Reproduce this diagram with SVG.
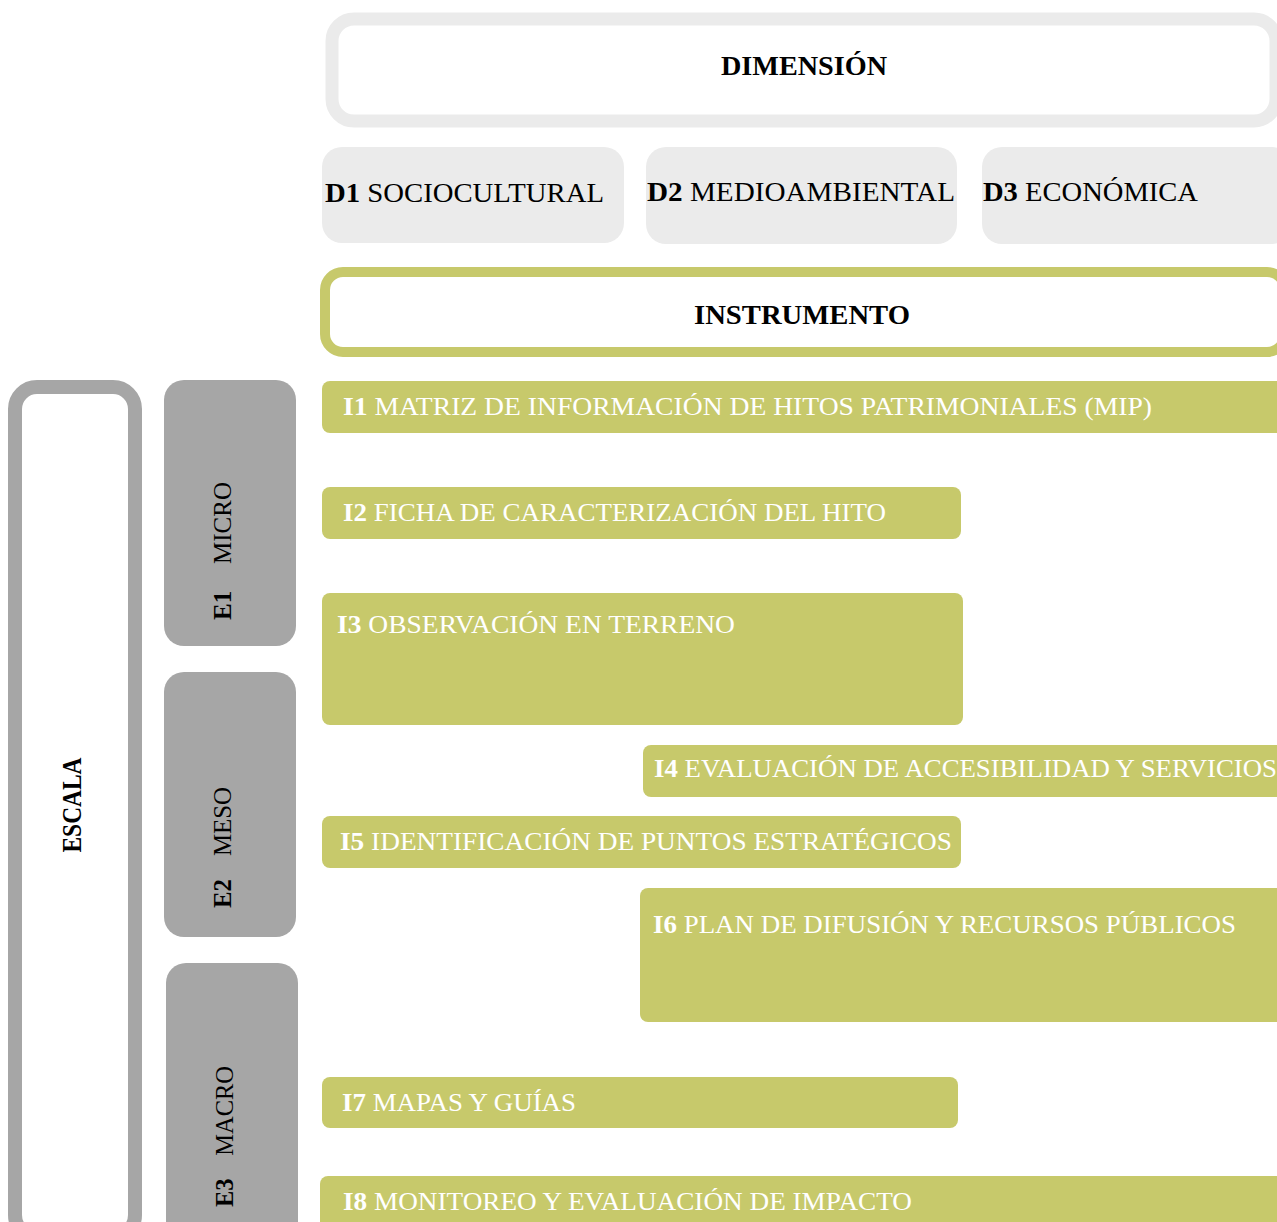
<svg xmlns="http://www.w3.org/2000/svg" width="1277" height="1222" viewBox="0 0 1277 1222">
<style>
text{font-family:"Liberation Serif","DejaVu Serif",serif;}
.hd{font-size:27px;font-weight:bold;fill:#000;text-anchor:middle;}
.dt{font-size:27px;fill:#000;}
.it{font-size:26px;fill:#fff;}
.et{font-size:26px;fill:#000;}
.b{font-weight:bold;}
.dim{fill:#ebebeb;}
.inst{fill:#c7c96b;}
.esc{fill:#a6a6a6;}
</style>
<rect width="1277" height="1222" fill="#fff"/>
<g id="dimension">
<rect x="332" y="19" width="944" height="102" rx="22" fill="#fff" stroke="#ebebeb" stroke-width="13"/>
<text class="hd" x="804" y="75" textLength="166" lengthAdjust="spacingAndGlyphs">DIMENSIÓN</text>
</g>
<g id="d1"><rect class="dim" x="322" y="147" width="302" height="96" rx="20"/><text class="dt" x="325" y="202" textLength="279" lengthAdjust="spacingAndGlyphs"><tspan class="b">D1</tspan> SOCIOCULTURAL</text></g>
<g id="d2"><rect class="dim" x="646" y="147" width="311" height="97" rx="20"/><text class="dt" x="647" y="201" textLength="308" lengthAdjust="spacingAndGlyphs"><tspan class="b">D2</tspan> MEDIOAMBIENTAL</text></g>
<g id="d3"><rect class="dim" x="982" y="147" width="310" height="97" rx="20"/><text class="dt" x="983" y="201" textLength="215" lengthAdjust="spacingAndGlyphs"><tspan class="b">D3</tspan> ECONÓMICA</text></g>
<g id="instrumento">
<rect x="325" y="272" width="960" height="80" rx="18" fill="#fff" stroke="#c7c96b" stroke-width="10"/>
<text class="hd" x="802" y="324" textLength="216" lengthAdjust="spacingAndGlyphs">INSTRUMENTO</text>
</g>
<g id="escala">
<rect x="15" y="387" width="120" height="850" rx="22" fill="#fff" stroke="#a6a6a6" stroke-width="14"/>
<text class="hd" transform="translate(81,805) rotate(-90)" x="0" y="0" textLength="95" lengthAdjust="spacingAndGlyphs">ESCALA</text>
</g>
<g id="e1"><rect class="esc" x="164" y="380" width="132" height="266" rx="20"/><text class="et" transform="translate(231,620) rotate(-90)" textLength="138" lengthAdjust="spacingAndGlyphs"><tspan class="b">E1</tspan><tspan dx="28">MICRO</tspan></text></g>
<g id="e2"><rect class="esc" x="164" y="672" width="132" height="265" rx="20"/><text class="et" transform="translate(231,908) rotate(-90)" textLength="121" lengthAdjust="spacingAndGlyphs"><tspan class="b">E2</tspan><tspan dx="24">MESO</tspan></text></g>
<g id="e3"><rect class="esc" x="166" y="963" width="132" height="290" rx="20"/><text class="et" transform="translate(233,1207) rotate(-90)" textLength="141" lengthAdjust="spacingAndGlyphs"><tspan class="b">E3</tspan><tspan dx="24">MACRO</tspan></text></g>
<g id="i1"><rect class="inst" x="322" y="381" width="975" height="52" rx="8"/><text class="it" x="343" y="415" textLength="809" lengthAdjust="spacingAndGlyphs"><tspan class="b">I1</tspan> MATRIZ DE INFORMACIÓN DE HITOS PATRIMONIALES (MIP)</text></g>
<g id="i2"><rect class="inst" x="322" y="487" width="639" height="52" rx="8"/><text class="it" x="343" y="521" textLength="543" lengthAdjust="spacingAndGlyphs"><tspan class="b">I2</tspan> FICHA DE CARACTERIZACIÓN DEL HITO</text></g>
<g id="i3"><rect class="inst" x="322" y="593" width="641" height="132" rx="8"/><text class="it" x="337" y="633" textLength="398" lengthAdjust="spacingAndGlyphs"><tspan class="b">I3</tspan> OBSERVACIÓN EN TERRENO</text></g>
<g id="i4"><rect class="inst" x="643" y="745" width="654" height="52" rx="8"/><text class="it" x="654" y="777" textLength="623" lengthAdjust="spacingAndGlyphs"><tspan class="b">I4</tspan> EVALUACIÓN DE ACCESIBILIDAD Y SERVICIOS</text></g>
<g id="i5"><rect class="inst" x="322" y="816" width="639" height="52" rx="8"/><text class="it" x="340" y="850" textLength="612" lengthAdjust="spacingAndGlyphs"><tspan class="b">I5</tspan> IDENTIFICACIÓN DE PUNTOS ESTRATÉGICOS</text></g>
<g id="i6"><rect class="inst" x="640" y="888" width="657" height="134" rx="8"/><text class="it" x="653" y="933" textLength="583" lengthAdjust="spacingAndGlyphs"><tspan class="b">I6</tspan> PLAN DE DIFUSIÓN Y RECURSOS PÚBLICOS</text></g>
<g id="i7"><rect class="inst" x="322" y="1077" width="636" height="51" rx="8"/><text class="it" x="342" y="1111" textLength="234" lengthAdjust="spacingAndGlyphs"><tspan class="b">I7</tspan> MAPAS Y GUÍAS</text></g>
<g id="i8"><rect class="inst" x="320" y="1176" width="977" height="70" rx="8"/><text class="it" x="343" y="1210" textLength="569" lengthAdjust="spacingAndGlyphs"><tspan class="b">I8</tspan> MONITOREO Y EVALUACIÓN DE IMPACTO</text></g>
<g id="connectors"></g>
</svg>
